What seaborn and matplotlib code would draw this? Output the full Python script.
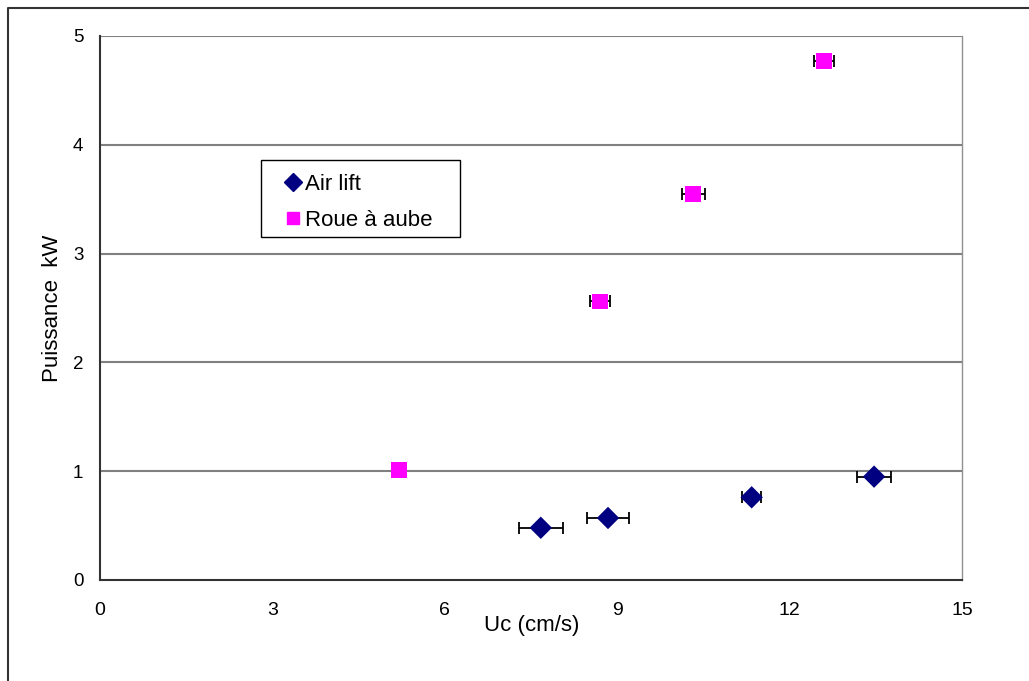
import matplotlib
matplotlib.use("Agg")
import matplotlib.pyplot as plt
import seaborn as sns
import pandas as pd
from matplotlib.lines import Line2D
from matplotlib.patches import Rectangle

# Data
air_x = [7.67, 8.84, 11.34, 13.47]
air_y = [0.48, 0.57, 0.76, 0.95]
air_xerr = [0.38, 0.37, 0.17, 0.30]

roue_x = [5.20, 8.70, 10.32, 12.60]
roue_y = [1.01, 2.56, 3.55, 4.77]
roue_xerr = [0.08, 0.18, 0.20, 0.18]

series = ["Air lift", "Roue à aube"]
x_ticks = [0, 3, 6, 9, 12, 15]
y_ticks = [0, 1, 2, 3, 4, 5]

df = pd.DataFrame({
    "Uc": air_x + roue_x,
    "P": air_y + roue_y,
    "serie": [series[0]] * len(air_x) + [series[1]] * len(roue_x),
})

sns.set_style("white")
plt.rcParams["font.family"] = ["Liberation Sans", "DejaVu Sans"]
plt.rcParams["text.color"] = "black"
plt.rcParams["axes.labelcolor"] = "black"
plt.rcParams["xtick.color"] = "black"
plt.rcParams["ytick.color"] = "black"

W, H = 1029, 681
fig = plt.figure(figsize=(W / 100, H / 100), dpi=100)
ax = fig.add_axes([100 / W, 1 - 580 / H, 862 / W, 544 / H])


def ax_px(px, py):
    return (px - 100) / 862, (580 - py) / 544


# grid
for yv in y_ticks[1:]:
    ax.axhline(yv, color="#808080", lw=1.5, zorder=0)

# error bars
ax.errorbar(air_x, air_y, xerr=air_xerr, fmt="none", ecolor="black",
            elinewidth=1.3, capsize=4, capthick=1.3, zorder=2)
ax.errorbar(roue_x, roue_y, xerr=roue_xerr, fmt="none", ecolor="black",
            elinewidth=1.3, capsize=4, capthick=1.3, zorder=2)

palette = {series[0]: "#000080", series[1]: "#FF00FF"}
markers = {series[0]: "D", series[1]: "s"}
sns.scatterplot(data=df, x="Uc", y="P", hue="serie", style="serie",
                palette=palette, markers=markers, s=130, linewidth=0,
                ax=ax, zorder=3, legend=False)

ax.set_xlim(0, 15)
ax.set_ylim(0, 5)
ax.set_xticks(x_ticks)
ax.set_yticks(y_ticks)
ax.tick_params(axis="both", direction="out", length=6, width=1, color="black",
               labelcolor="black")
ax.tick_params(axis="x", labelsize=14, pad=10)
ax.tick_params(axis="y", labelsize=13.5, pad=6)

for s in ["left", "bottom"]:
    ax.spines[s].set_color("#333333")
    ax.spines[s].set_linewidth(1.5)
ax.spines["right"].set_color("#909090")
ax.spines["right"].set_linewidth(1)
ax.spines["top"].set_visible(False)

ax.set_xlabel("Uc (cm/s)", fontsize=16, color="black")
ax.xaxis.set_label_coords(*ax_px(532, 615), transform=ax.transAxes)
ax.set_ylabel("Puissance  kW", fontsize=16, color="black")
ax.yaxis.set_label_coords(*ax_px(63, 308), transform=ax.transAxes)

handles = [
    Line2D([], [], marker="D", color="#000080", linestyle="none", markersize=9),
    Line2D([], [], marker="s", color="#FF00FF", linestyle="none", markersize=9),
]
leg = ax.legend(handles, series, loc="upper left",
                bbox_to_anchor=ax_px(284, 174),
                borderaxespad=0, borderpad=0, frameon=False, fontsize=16,
                handlelength=0.8, handletextpad=0.15, labelspacing=0.68,
                labelcolor="black")
# legend frame
x0, y0 = ax_px(261, 237)
x1, y1 = ax_px(460, 160)
ax.add_patch(Rectangle((x0, y0), x1 - x0, y1 - y0, transform=ax.transAxes,
                       facecolor="white", edgecolor="black", lw=1, zorder=4))
leg.set_zorder(5)

# outer chart frame (left and top edges)
fig.add_artist(Line2D([7.5 / W, 7.5 / W, 1.0], [0, 1 - 7.5 / H, 1 - 7.5 / H],
                      transform=fig.transFigure, color="#333333", lw=1.5))

fig.savefig("out.png", dpi=100)
